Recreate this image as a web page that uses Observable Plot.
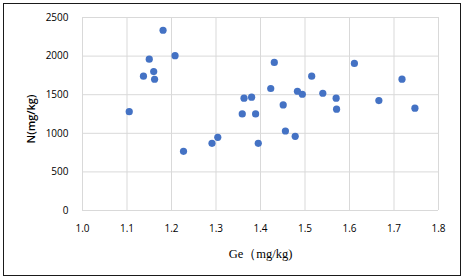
<!DOCTYPE html>
<html>
<head>
<meta charset="utf-8">
<script src="https://cdn.jsdelivr.net/npm/d3@7"></script>
<script src="https://cdn.jsdelivr.net/npm/@observablehq/plot@0.6"></script>
<style>
  html, body { margin: 0; padding: 0; background: #fff; }
  #wrap { position: relative; width: 463px; height: 280px; overflow: hidden; }
  #frame { position: absolute; left: 3px; top: 3px; width: 456px; height: 271px; border: 1.5px solid #1a1a1a; box-sizing: content-box; pointer-events: none; }
  #chart { position: absolute; left: 0; top: 0; }
</style>
</head>
<body>
<div id="wrap"><div id="chart"></div><div id="frame"></div></div>
<script>
const ge = [1.105, 1.137, 1.150, 1.160, 1.162, 1.181, 1.208, 1.227, 1.291, 1.304,
            1.359, 1.363, 1.380, 1.389, 1.395, 1.423, 1.431, 1.451, 1.456, 1.478,
            1.483, 1.494, 1.515, 1.540, 1.570, 1.571, 1.611, 1.666, 1.718, 1.747];
const n  = [1280, 1740, 1960, 1800, 1700, 2335, 2005, 766, 870, 948,
            1251, 1455, 1468, 1251, 870, 1580, 1918, 1368, 1030, 961,
            1545, 1506, 1740, 1519, 1455, 1312, 1905, 1424, 1701, 1325];
const xTicks = [1.0, 1.1, 1.2, 1.3, 1.4, 1.5, 1.6, 1.7, 1.8];
const yTicks = [0, 500, 1000, 1500, 2000, 2500];
const xTitle = "Ge（mg/kg)";
const yTitle = "N(mg/kg)";

const data = ge.map((g, i) => ({ge: g, n: n[i]}));

const chart = Plot.plot({
  width: 463,
  height: 280,
  marginLeft: 82,
  marginRight: 25,
  marginTop: 17,
  marginBottom: 70,
  style: { fontFamily: "'Open Sans', sans-serif", fontSize: "10px", color: "#000", background: "transparent" },
  x: { domain: [1.0, 1.8], ticks: xTicks, tickFormat: d3.format(".1f") },
  y: { domain: [0, 2500], ticks: yTicks, tickFormat: d3.format("d") },
  marks: [
    Plot.gridX(xTicks, { stroke: "#d9d9d9", strokeOpacity: 1, strokeWidth: 1 }),
    Plot.gridY(yTicks, { stroke: "#d9d9d9", strokeOpacity: 1, strokeWidth: 1 }),
    Plot.axisX({ ticks: xTicks, tickFormat: d3.format(".1f"), tickSize: 0, tickPadding: 14,
                 label: xTitle, labelAnchor: "center", labelArrow: "none", labelOffset: 47 }),
    Plot.axisY({ ticks: yTicks, tickFormat: d3.format("d"), tickSize: 0, tickPadding: 14,
                 label: yTitle, labelAnchor: "center", labelArrow: "none", labelOffset: 55 }),
    Plot.dot(data, { x: "ge", y: "n", r: 3.6, fill: "#4472C4", stroke: "none" })
  ]
});
document.getElementById("chart").appendChild(chart);

const svg = d3.select(chart);
svg.selectAll("text").each(function() {
  const t = d3.select(this);
  const s = this.textContent;
  if (s === xTitle) {
    t.attr("font-family", null)
     .style("font-family", "'Liberation Serif', 'Times New Roman', serif")
     .style("font-size", "12.5px");
  } else if (s === yTitle) {
    t.attr("font-family", null)
     .style("font-family", "'Open Sans', sans-serif")
     .style("font-weight", "600")
     .style("font-size", "11px")
     .attr("dx", -5);
  }
});
</script>
</body>
</html>
